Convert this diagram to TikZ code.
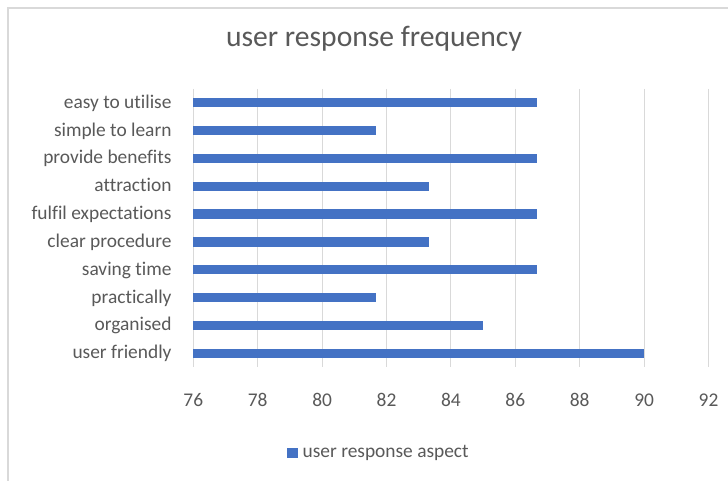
\documentclass[tikz,border=0pt]{standalone}
\usepackage{fontspec}
\setmainfont{Carlito}[Ligatures={NoCommon,NoRare,NoContextual}]
\definecolor{txt}{HTML}{595959}
\definecolor{grid}{HTML}{D9D9D9}
\definecolor{bar}{HTML}{4472C4}
\definecolor{frame}{HTML}{D9D9D9}
\begin{document}
\begin{tikzpicture}[x=1pt,y=-1pt,
  lab/.style={anchor=base east,inner sep=0pt,text=txt,font=\fontsize{19.4}{22}\selectfont},
  tick/.style={anchor=base,inner sep=0pt,text=txt,font=\fontsize{19.4}{22}\selectfont},
  gridline/.style={draw=grid,line width=1.1pt},
  barbox/.style={fill=bar,draw=none}]
\useasboundingbox (0,0) rectangle (728,481);
\fill[white] (0,0) rectangle (728,481);
% frame
\draw[frame,line width=2pt] (8,481) -- (8,8.5) -- (728,8.5);
% title
\node[anchor=base,inner sep=0pt,text=txt,font=\fontsize{29.6}{34}\selectfont] (title) at (374,46.7) {user response frequency};
% gridlines and ticks
\foreach \v/\n in {76/a,78/b,80/c,82/d,84/e,86/f,88/g,90/h,92/i}{
  \pgfmathsetmacro{\xx}{193.3+(\v-76)*32.2}
  \draw[gridline] (\xx,89) -- (\xx,367);
  \node[tick] (t\n) at (\xx,406.3) {\v};
}
% bars
\foreach \i/\lbl/\val in {0/easy to utilise/86.667,1/simple to learn/81.667,2/provide benefits/86.667,3/attraction/83.333,4/fulfil expectations/86.667,5/clear procedure/83.333,6/saving time/86.667,7/practically/81.667,8/organised/85,9/user friendly/90}{
  \pgfmathsetmacro{\yc}{89+27.8*(\i+0.5)}
  \pgfmathsetmacro{\xe}{193.3+(\val-76)*32.2}
  \fill[bar] (193.3,\yc-4.6) rectangle (\xe,\yc+4.6);
  \node[lab] (l\i) at (171.7,\yc+5.5) {\lbl};
}
% legend
\fill[bar] (286.7,447.7) rectangle (298,458.3);
\node[anchor=base west,inner sep=0pt,text=txt,font=\fontsize{19.4}{22}\selectfont] (legend) at (302.5,457.6) {user response aspect};
\end{tikzpicture}
\end{document}
